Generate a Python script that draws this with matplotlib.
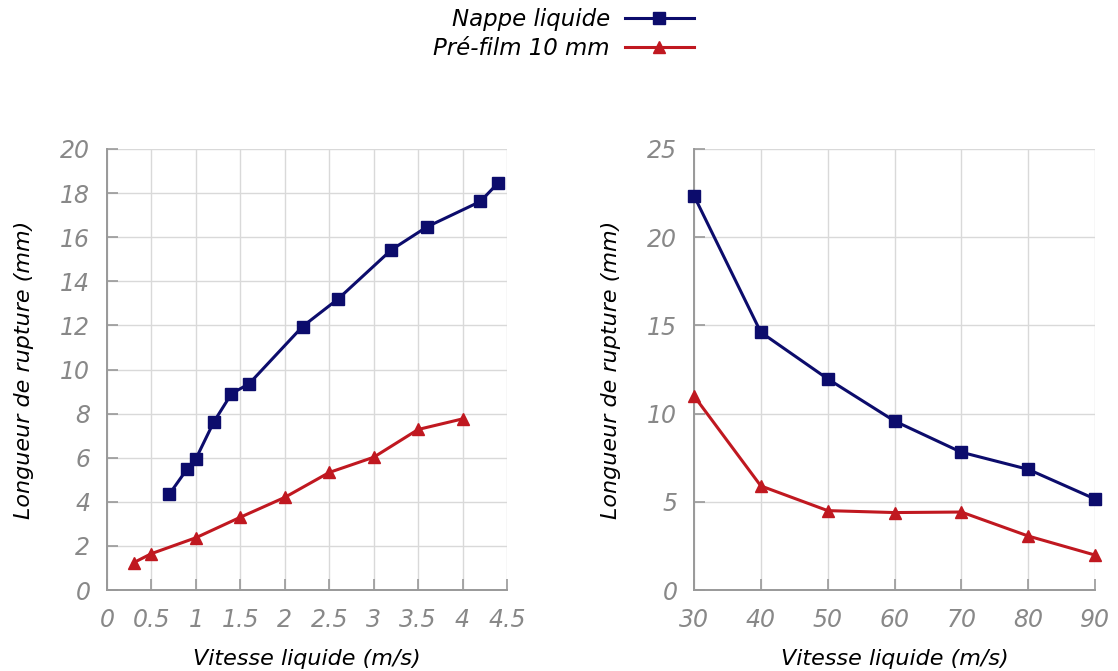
import matplotlib
matplotlib.use("Agg")
import matplotlib.pyplot as plt
from matplotlib.lines import Line2D

# Left panel data
left_nappe_x = [0.7, 0.9, 1.0, 1.2, 1.4, 1.6, 2.2, 2.6, 3.2, 3.6, 4.2, 4.4]
left_nappe_y = [4.34, 5.48, 5.95, 7.61, 8.90, 9.36, 11.95, 13.2, 15.43, 16.47, 17.62, 18.46]
left_film_x = [0.3, 0.5, 1.0, 1.5, 2.0, 2.5, 3.0, 3.5, 4.0]
left_film_y = [1.24, 1.65, 2.37, 3.30, 4.20, 5.33, 6.02, 7.28, 7.76]

# Right panel data
right_x = [30, 40, 50, 60, 70, 80, 90]
right_nappe_y = [22.35, 14.61, 11.97, 9.58, 7.81, 6.84, 5.16]
right_film_y = [11.0, 5.90, 4.50, 4.39, 4.42, 3.06, 1.98]

left_xticks = [0, 0.5, 1, 1.5, 2, 2.5, 3, 3.5, 4, 4.5]
left_xticklabels = ["0", "0.5", "1", "1.5", "2", "2.5", "3", "3.5", "4", "4.5"]
left_yticks = [0, 2, 4, 6, 8, 10, 12, 14, 16, 18, 20]
right_xticks = [30, 40, 50, 60, 70, 80, 90]
right_yticks = [0, 5, 10, 15, 20, 25]

labels = ["Nappe liquide", "Pré-film 10 mm"]
xlabel = "Vitesse liquide (m/s)"
ylabel = "Longueur de rupture (mm)"

NAVY = "#0c0c6c"
RED = "#c01820"
GRID = "#d9d9d9"
SPINE = "#999999"
TICKC = "#888888"

plt.rcParams['font.family'] = ['DejaVu Sans']

fig = plt.figure(figsize=(11.18, 6.71), dpi=100)
W, H = 1118, 671
ax1 = fig.add_axes([107 / W, 1 - 590 / H, 400 / W, 441 / H])
ax2 = fig.add_axes([694 / W, 1 - 590 / H, 401 / W, 441 / H])


def style(ax, xticks, yticks, xlim, ylim):
    ax.set_xlim(*xlim)
    ax.set_ylim(*ylim)
    ax.set_xticks(xticks)
    ax.set_yticks(yticks)
    ax.grid(True, color=GRID, linewidth=1.0)
    ax.set_axisbelow(True)
    for s in ["top", "right"]:
        ax.spines[s].set_visible(False)
    for s in ["left", "bottom"]:
        ax.spines[s].set_color(SPINE)
        ax.spines[s].set_linewidth(1.4)
    ax.tick_params(direction="in", length=8, width=1.2, color=SPINE,
                   labelcolor=TICKC, labelsize=17)
    ax.tick_params(axis="x", pad=13)
    ax.tick_params(axis="y", pad=12)
    for t in ax.get_xticklabels() + ax.get_yticklabels():
        t.set_fontstyle("italic")
    ax.set_xlabel(xlabel, fontsize=16, fontstyle="italic", labelpad=12)
    ax.set_ylabel(ylabel, fontsize=16, fontstyle="italic", labelpad=19)


ax1.plot(left_nappe_x, left_nappe_y, color=NAVY, lw=2.2, marker="s", ms=8, clip_on=False, zorder=3)
ax1.plot(left_film_x, left_film_y, color=RED, lw=2.2, marker="^", ms=8, clip_on=False, zorder=3)
style(ax1, left_xticks, left_yticks, (0, 4.5), (0, 20))
ax1.set_xticklabels(left_xticklabels)
for t in ax1.get_xticklabels():
    t.set_fontstyle("italic")

ax2.plot(right_x, right_nappe_y, color=NAVY, lw=2.2, marker="s", ms=8, clip_on=False, zorder=3)
ax2.plot(right_x, right_film_y, color=RED, lw=2.2, marker="^", ms=8, clip_on=False, zorder=3)
style(ax2, right_xticks, right_yticks, (30, 90), (0, 25))

handles = [Line2D([], [], color=NAVY, lw=2.2, marker="s", ms=8),
           Line2D([], [], color=RED, lw=2.2, marker="^", ms=8)]
leg = fig.legend(handles, labels, loc="upper center", bbox_to_anchor=(0.504, 1.005),
                 markerfirst=False, frameon=False, fontsize=16.5, handlelength=3.0,
                 labelspacing=0.25, handletextpad=0.65, borderpad=0.0)
for t in leg.get_texts():
    t.set_fontstyle("italic")

fig.savefig("out.png", dpi=100)
